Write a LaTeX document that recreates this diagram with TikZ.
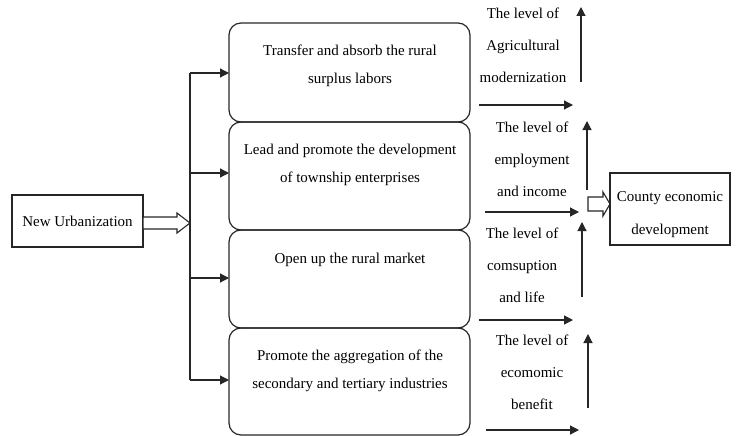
\documentclass[tikz,border=0pt]{standalone}
\usepackage{fontspec}
\setmainfont{Liberation Serif}
\usetikzlibrary{arrows.meta}
\begin{document}
\begin{tikzpicture}[x=1pt,y=-1pt,
  every node/.style={inner sep=0pt, outer sep=0pt},
  line/.style={line width=1.2pt, draw=black!85},
  rbox/.style={line, rounded corners=12pt, minimum width=241pt, inner sep=0pt},
  sbox/.style={line, inner sep=0pt},
  txt/.style={align=center, font=\fontsize{15}{28}\selectfont},
  rtxt/.style={align=center, font=\fontsize{15}{32}\selectfont},
  arr/.style={line, -{Triangle[length=9pt,width=9pt]}},
  hollow/.style={line width=1.1pt, draw=black!85, fill=white}]
\useasboundingbox (0,0) rectangle (736,436);
% left box
\node[sbox, minimum width=131pt, minimum height=52pt] (nu) at (77.5,221) {};
\node[txt] (nut) at (77.5,221) {New Urbanization};
% hollow arrow
\draw[hollow] (nu.east |- 0,217) -- (177,217) -- (177,213) -- (190,223) -- (177,233) -- (177,229) -- (nu.east |- 0,229) -- cycle;
% middle boxes
\node[rbox, minimum height=99pt] (b1) at (349.5,72.5) {};
\node[rbox, minimum height=108pt] (b2) at (349.5,176) {};
\node[rbox, minimum height=98pt] (b3) at (349.5,279) {};
\node[rbox, minimum height=107pt] (b4) at (349.5,381.5) {};
\node[txt] (t1) at (350,66) {Transfer and absorb the rural\\surplus labors};
\node[txt] (t2) at (350,165) {Lead and promote the development\\of township enterprises};
\node[txt] (t3) at (350,260) {Open up the rural market};
\node[txt] (t4) at (350,371) {Promote the aggregation of the\\secondary and tertiary industries};
% branching
\coordinate (v1) at (190,73);
\coordinate (v2) at (190,173);
\coordinate (v3) at (190,278);
\coordinate (v4) at (190,380);
\draw[line] (v1) -- (v4);
\draw[arr] (v1) -- (b1.west |- v1);
\draw[arr] (v2) -- (b2.west |- v2);
\draw[arr] (v3) -- (b3.west |- v3);
\draw[arr] (v4) -- (b4.west |- v4);
% right texts
\node[rtxt] (r1) at (523,45) {The level of\\Agricultural\\modernization};
\node[rtxt] (r2) at (532,159) {The level of\\employment\\and income};
\node[rtxt] (r3) at (522,265) {The level of\\comsuption\\and life};
\node[rtxt] (r4) at (532,372) {The level of\\ecomomic\\benefit};
% up arrows
\coordinate (u1a) at (581,82); \coordinate (u1b) at (581,7);
\coordinate (u2a) at (587,190); \coordinate (u2b) at (587,121);
\coordinate (u3a) at (582,297); \coordinate (u3b) at (582,222);
\coordinate (u4a) at (588,408); \coordinate (u4b) at (588,334);
\draw[arr] (u1a) -- (u1b);
\draw[arr] (u2a) -- (u2b);
\draw[arr] (u3a) -- (u3b);
\draw[arr] (u4a) -- (u4b);
% horizontal arrows
\coordinate (h1a) at (479,105); \coordinate (h1b) at (573,105);
\coordinate (h2a) at (485,212); \coordinate (h2b) at (579,212);
\coordinate (h3a) at (479,320); \coordinate (h3b) at (573,320);
\coordinate (h4a) at (486,430); \coordinate (h4b) at (579,430);
\draw[arr] (h1a) -- (h1b);
\draw[arr] (h2a) -- (h2b);
\draw[arr] (h3a) -- (h3b);
\draw[arr] (h4a) -- (h4b);
% county box
\node[sbox, minimum width=120pt, minimum height=72pt] (cd) at (670,209) {};
\node[txt, font=\fontsize{15}{33}\selectfont] (cdt) at (670,215) {County economic\\development};
\draw[hollow] (588,197) -- (603,197) -- (603,192) -- (cd.west |- 0,204) -- (603,216) -- (603,211) -- (588,211) -- cycle;
\end{tikzpicture}
\end{document}
